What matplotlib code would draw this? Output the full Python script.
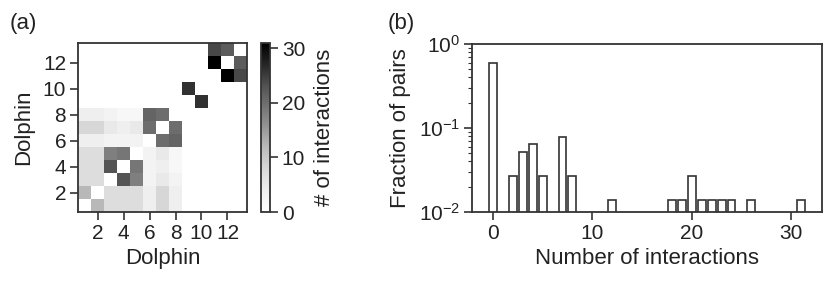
import numpy as np
import matplotlib
matplotlib.use("Agg")
import matplotlib.pyplot as plt

plt.rcParams['font.family'] = ['Liberation Sans', 'DejaVu Sans']
plt.rcParams['font.size'] = 15
plt.rcParams['mathtext.fontset'] = 'custom'
plt.rcParams['mathtext.rm'] = 'Liberation Sans'

# ---- data ----
dolphins = list(range(1, 14))
# upper-triangle pair interactions (i, j, count); matrix is symmetric
pair_i = [1, 1, 1, 1, 1, 1, 1,
          2, 2, 2, 2, 2, 2,
          3, 3, 3, 3, 3,
          4, 4, 4, 4,
          5, 5, 5,
          6, 6,
          7,
          9,
          11, 11, 12]
pair_j = [2, 3, 4, 5, 6, 7, 8,
          3, 4, 5, 6, 7, 8,
          4, 5, 6, 7, 8,
          5, 6, 7, 8,
          6, 7, 8,
          7, 8,
          8,
          10,
          12, 13, 13]
pair_n = [12, 7, 7, 7, 4, 8, 4,
          7, 7, 7, 4, 8, 4,
          23, 18, 3, 5, 3,
          19, 3, 4, 2,
          3, 5, 2,
          20, 21,
          20,
          26,
          31, 24, 22]

hist_x = [0, 2, 3, 4, 5, 7, 8, 12, 18, 19, 20, 21, 22, 23, 24, 26, 31]
hist_frac = [0.590, 0.0256, 0.0513, 0.0641, 0.0256, 0.0769, 0.0256, 0.0128,
             0.0128, 0.0128, 0.0256, 0.0128, 0.0128, 0.0128, 0.0128, 0.0128, 0.0128]

W, H = 831, 281
fig = plt.figure(figsize=(W / 100, H / 100), dpi=100)

def ax_rect(x0, y0, x1, y1):
    return [x0 / W, 1 - y1 / H, (x1 - x0) / W, (y1 - y0) / H]

n = len(dolphins)
M = np.zeros((n, n))
for i, j, v in zip(pair_i, pair_j, pair_n):
    M[i - 1, j - 1] = v
    M[j - 1, i - 1] = v

spine_lw = 1.3
tick_fs = 15
lab_fs = 16
tick_kw = dict(direction='out', length=5.5, width=1.1, labelsize=tick_fs, pad=3,
               colors='#222222', labelcolor='#222222')

# ---- panel (a) ----
ax1 = fig.add_axes(ax_rect(78, 43, 247, 212))
im = ax1.imshow(M, origin='lower', cmap='Greys', vmin=0, vmax=31,
                extent=(0.5, n + 0.5, 0.5, n + 0.5), interpolation='nearest',
                aspect='auto')
ax1.set_xticks([2, 4, 6, 8, 10, 12])
ax1.set_yticks([2, 4, 6, 8, 10, 12])
ax1.tick_params(**tick_kw)
ax1.set_xlabel('Dolphin', fontsize=lab_fs, labelpad=4, color='#222222')
ax1.set_ylabel('Dolphin', fontsize=lab_fs, labelpad=6, color='#222222')
for s in ax1.spines.values():
    s.set_linewidth(spine_lw)
    s.set_color('#333333')

cax = fig.add_axes(ax_rect(261, 43, 270, 212))
cb = fig.colorbar(im, cax=cax)
cb.set_ticks([0, 10, 20, 30])
cb.ax.tick_params(**tick_kw)
cb.outline.set_linewidth(spine_lw)
cb.outline.set_color('#333333')
cb.set_label('# of interactions', fontsize=lab_fs, labelpad=6, color='#222222')

# ---- panel (b) ----
ax2 = fig.add_axes(ax_rect(472, 44, 822, 212))
ax2.bar(hist_x, hist_frac, width=0.8, bottom=1e-3, facecolor='white',
        edgecolor='#333333', linewidth=1.2)
ax2.set_yscale('log')
ax2.set_ylim(1e-2, 1)
ax2.set_xlim(-2.1, 33.1)
ax2.set_xticks([0, 10, 20, 30])
ax2.tick_params(which='major', **tick_kw)
ax2.tick_params(which='minor', direction='out', length=3, width=0.8, colors='#333333')
ax2.set_xlabel('Number of interactions', fontsize=lab_fs, labelpad=4, color='#222222')
ax2.set_ylabel('Fraction of pairs', fontsize=lab_fs, labelpad=6, color='#222222')
for s in ax2.spines.values():
    s.set_linewidth(spine_lw)
    s.set_color('#333333')

fig.text(10 / W, 1 - 29 / H, '(a)', fontsize=lab_fs, color='#222222')
fig.text(388 / W, 1 - 29 / H, '(b)', fontsize=lab_fs, color='#222222')

fig.savefig('out.png', dpi=100)
